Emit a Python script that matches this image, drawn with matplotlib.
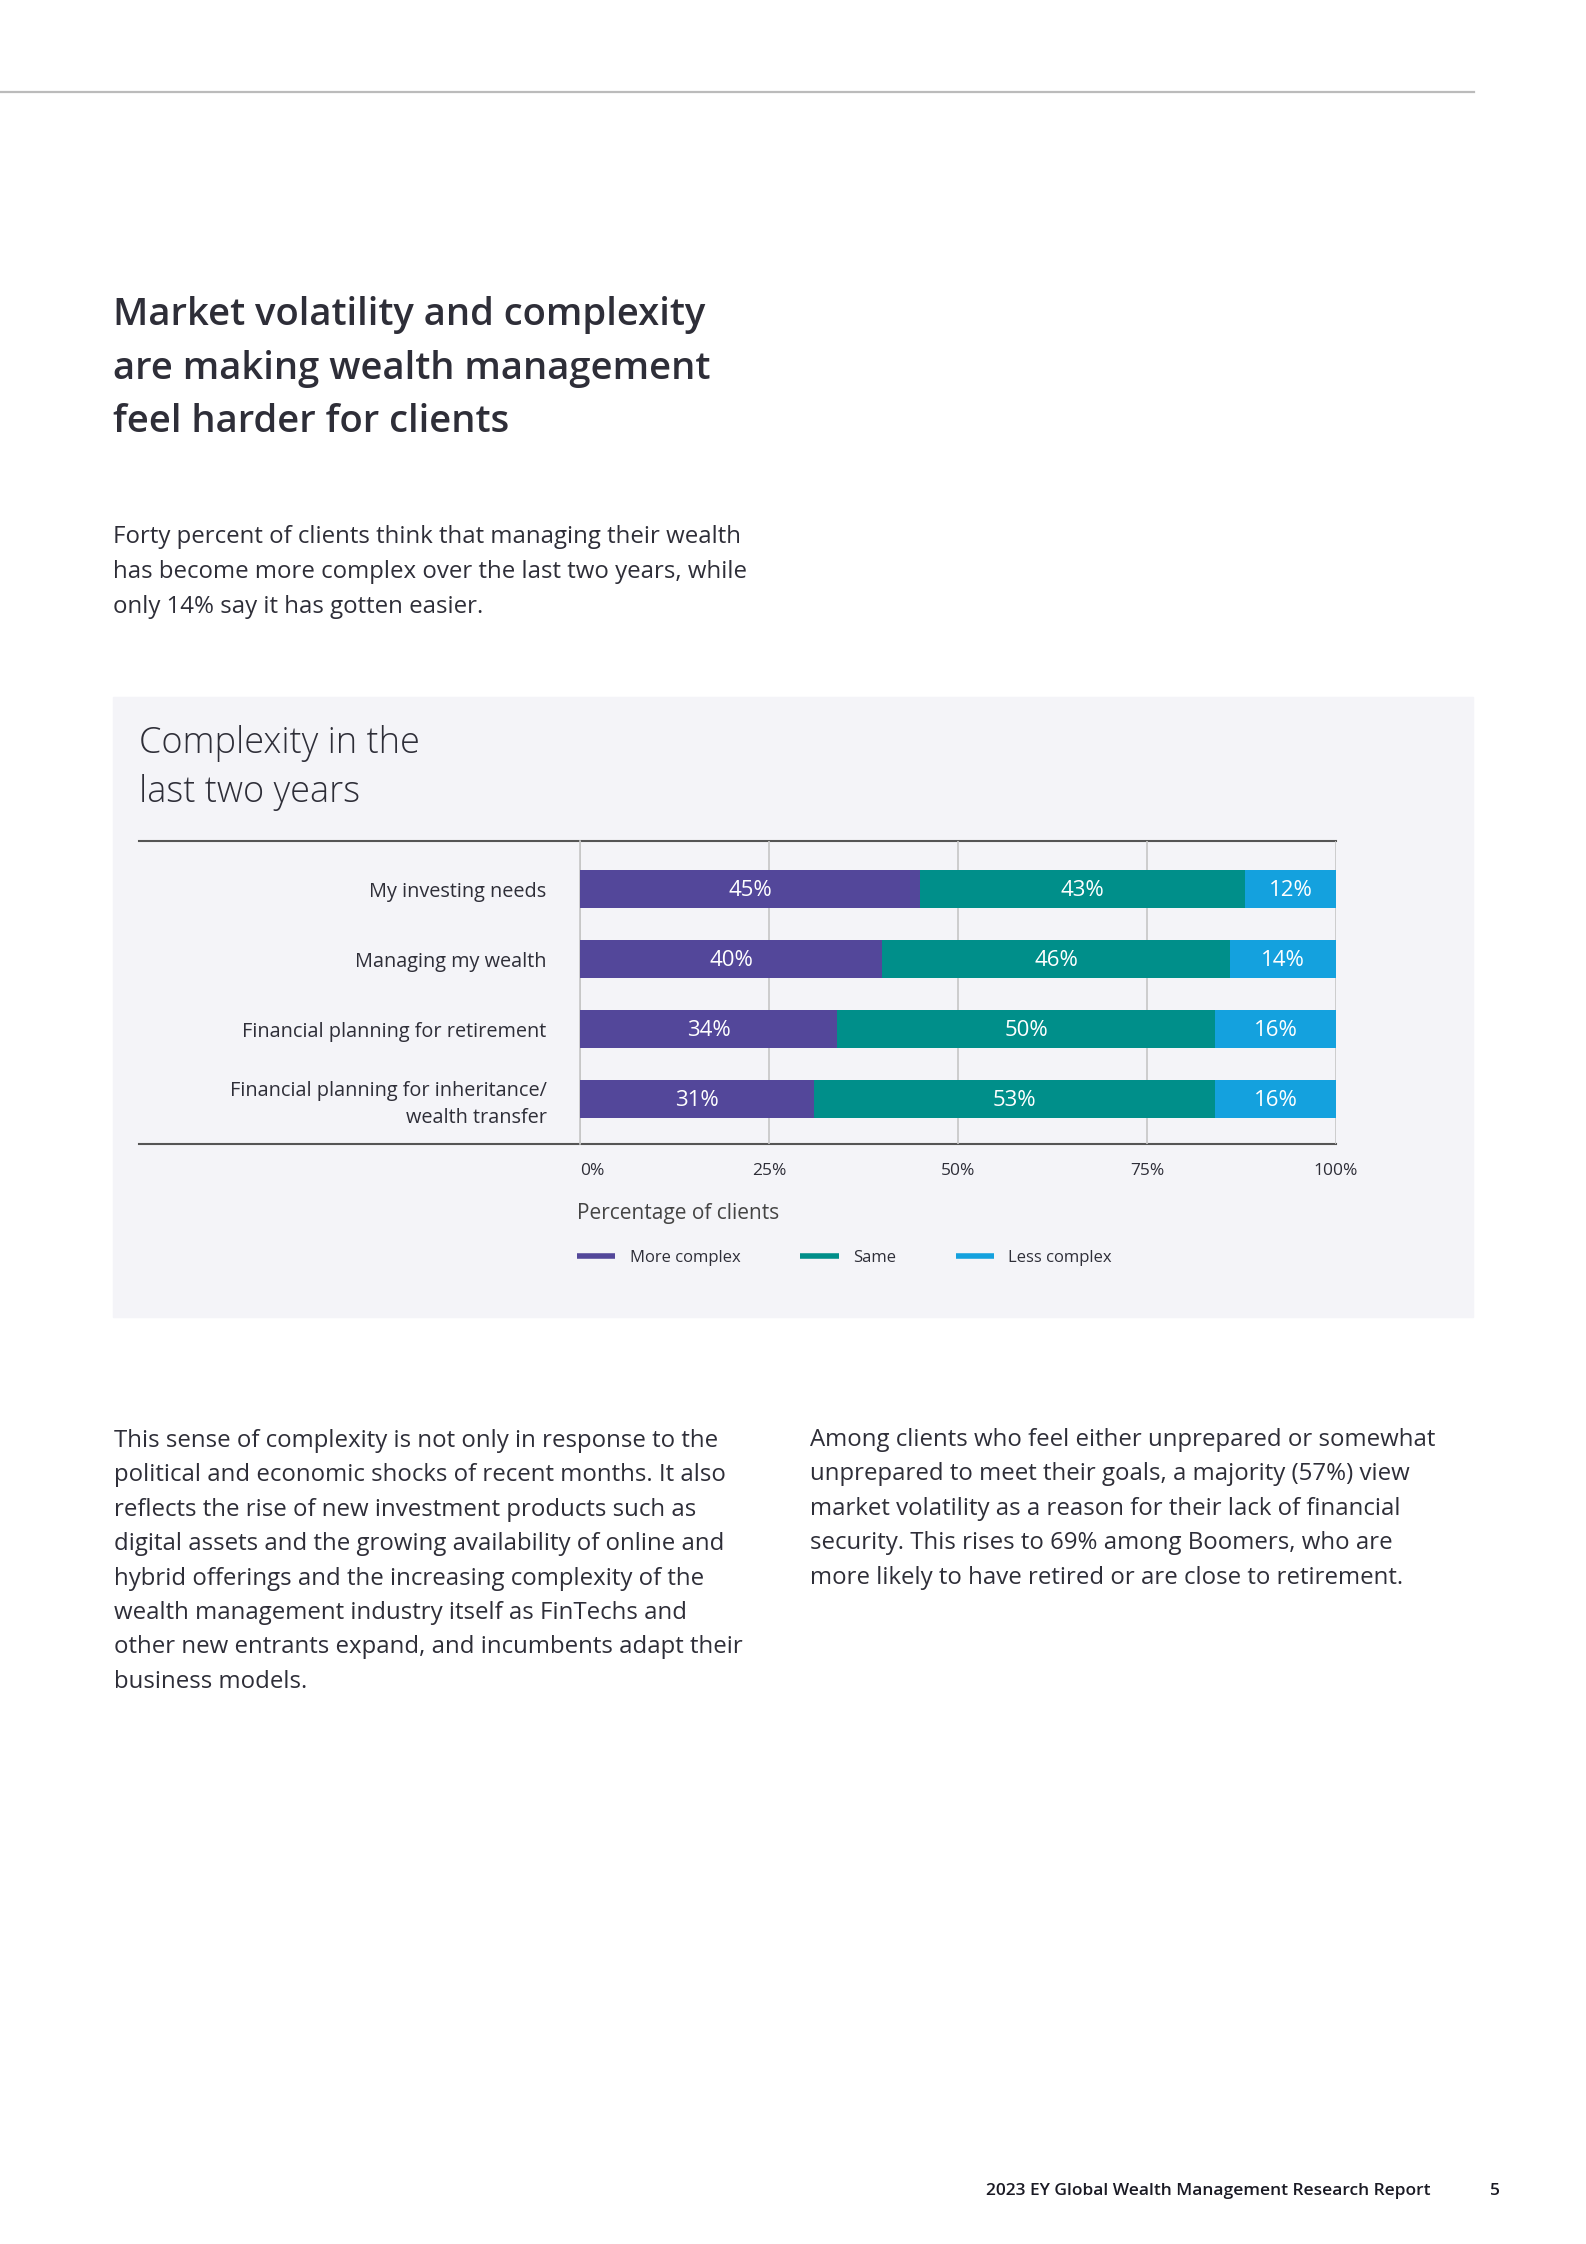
import matplotlib.pyplot as plt
from matplotlib.lines import Line2D
from matplotlib.patches import Rectangle

plt.rcParams['font.family'] = ['Open Sans', 'DejaVu Sans']

categories = ["My investing needs", "Managing my wealth",
              "Financial planning for retirement",
              "Financial planning for inheritance/\nwealth transfer"]
more_complex = [45, 40, 34, 31]
same = [43, 46, 50, 53]
less_complex = [12, 14, 16, 16]
series_names = ["More complex", "Same", "Less complex"]
colors = ["#53479a", "#008f8a", "#14a1de"]
x_ticks = [0, 25, 50, 75, 100]
tick_labels = ["0%", "25%", "50%", "75%", "100%"]

heading = ["Market volatility and complexity",
           "are making wealth management",
           "feel harder for clients"]
intro = ["Forty percent of clients think that managing their wealth",
         "has become more complex over the last two years, while",
         "only 14% say it has gotten easier."]
left_col = ["This sense of complexity is not only in response to the",
            "political and economic shocks of recent months. It also",
            "reflects the rise of new investment products such as",
            "digital assets and the growing availability of online and",
            "hybrid offerings and the increasing complexity of the",
            "wealth management industry itself as FinTechs and",
            "other new entrants expand, and incumbents adapt their",
            "business models."]
right_col = ["Among clients who feel either unprepared or somewhat",
             "unprepared to meet their goals, a majority (57%) view",
             "market volatility as a reason for their lack of financial",
             "security. This rises to 69% among Boomers, who are",
             "more likely to have retired or are close to retirement."]

W, H = 1586, 2244
TXT = "#2e2e38"


def fx(x):
    return x / W


def fy(y):
    return 1 - y / H


fig = plt.figure(figsize=(W / 100, H / 100), dpi=100)

# page furniture
fig.add_artist(Line2D([0, fx(1474)], [fy(92), fy(92)], color="#bbbbbb", lw=1.6))
fig.patches.append(Rectangle((fx(113), fy(1317)), (1473 - 113) / W, (1317 - 697) / H,
                             transform=fig.transFigure, color="#f4f4f8", zorder=-5))

for i, line in enumerate(heading):
    fig.text(fx(113), fy(325 + i * 53.5), line, fontsize=27.5, weight="semibold",
             color=TXT, va="baseline")
for i, line in enumerate(intro):
    fig.text(fx(113), fy(543 + i * 35), line, fontsize=17.3, color=TXT, va="baseline")

fig.text(fx(139), fy(753), "Complexity in the", fontsize=26, weight="light",
         color=TXT, va="baseline")
fig.text(fx(139), fy(802), "last two years", fontsize=26, weight="light",
         color=TXT, va="baseline")

# chart
ax = fig.add_axes([fx(580), fy(1144), (1336 - 580) / W, (1144 - 841) / H])
ax.set_zorder(5)
ax.set_facecolor("none")
y = range(len(categories))
lefts = [0] * len(categories)
for vals, c in zip([more_complex, same, less_complex], colors):
    ax.barh(y, vals, left=lefts, height=0.54, color=c, zorder=3)
    for yi, (l, v) in enumerate(zip(lefts, vals)):
        ax.text(l + v / 2, yi + 0.02, f"{v}%", ha="center", va="center",
                color="white", fontsize=16, zorder=4)
    lefts = [l + v for l, v in zip(lefts, vals)]

ax.set_xlim(0, 100)
ax.set_ylim(3.643, -0.686)
ax.set_xticks(x_ticks)
ax.set_xticklabels(tick_labels)
ax.get_xticklabels()[0].set_ha("left")
ax.set_yticks(list(y))
ax.set_yticklabels(categories, linespacing=1.45)
ax.tick_params(axis="x", length=0, labelsize=12.5, pad=14, labelcolor=TXT)
ax.tick_params(axis="y", length=0, labelsize=14.3, pad=24, labelcolor=TXT)
ax.grid(axis="x", color="#c6c6c6", lw=1.2, zorder=1)
for s in ["top", "bottom", "right"]:
    ax.spines[s].set_visible(False)
ax.spines["left"].set_color("#c6c6c6")
ax.spines["left"].set_linewidth(1.2)

fig.add_artist(Line2D([fx(139), fx(1336)], [fy(841), fy(841)], color="#555555", lw=1.5))
fig.add_artist(Line2D([fx(139), fx(1336)], [fy(1144), fy(1144)], color="#555555", lw=1.5))

fig.text(fx(577), fy(1214), "Percentage of clients", fontsize=15, color="#444444",
         va="center")

handles = [Line2D([0], [0], color=c, lw=4, solid_capstyle="butt") for c in colors]
fig.legend(handles, series_names, loc="center left", bbox_to_anchor=(fx(577), fy(1258)),
           frameon=False, ncol=3, fontsize=12, handlelength=2.3, handletextpad=0.85,
           columnspacing=3.6, borderpad=0, borderaxespad=0, labelcolor=TXT)

for i, line in enumerate(left_col):
    fig.text(fx(114), fy(1447 + i * 34.4), line, fontsize=17.3, color=TXT, va="baseline")
for i, line in enumerate(right_col):
    fig.text(fx(810), fy(1446 + i * 34.4), line, fontsize=17.3, color=TXT, va="baseline")

fig.text(fx(1430), fy(2191), "2023 EY Global Wealth Management Research Report",
         fontsize=12.5, weight="semibold", color="#1a1a24", ha="right", va="center")
fig.text(fx(1495), fy(2191), "5", fontsize=12.5, weight="semibold", color="#1a1a24",
         ha="center", va="center")

fig.savefig("out.png", dpi=100, facecolor="white")
